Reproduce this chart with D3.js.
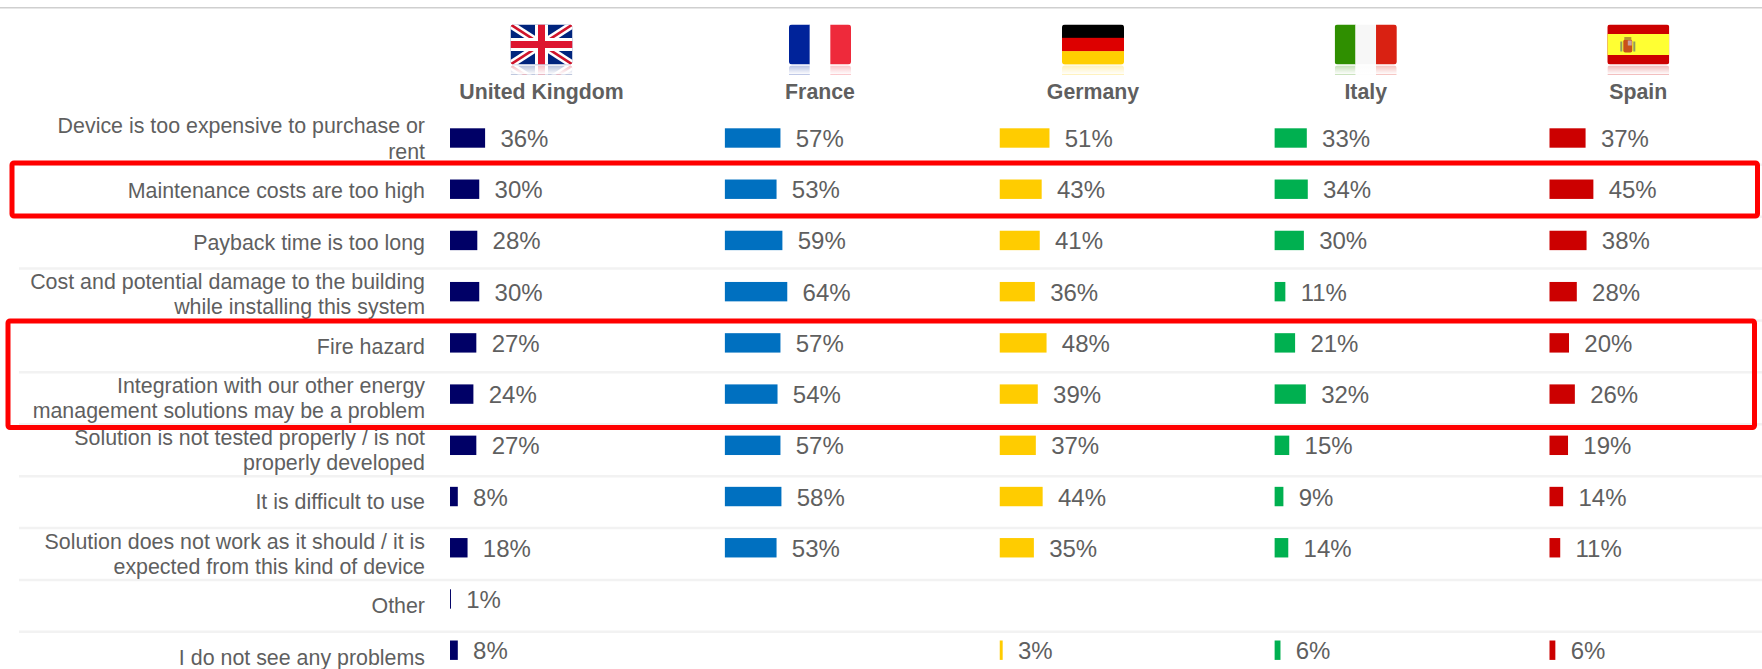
<!DOCTYPE html>
<html>
<head>
<meta charset="utf-8">
<script src="https://cdn.jsdelivr.net/npm/d3@7"></script>
<style>
  html, body { margin: 0; padding: 0; background: #fff; }
  svg { display: block; font-family: "Liberation Sans", Arial, sans-serif; }
</style>
</head>
<body>
<svg id="chart"></svg>
<script>
// -- DATA --
const countries = ["United Kingdom", "France", "Germany", "Italy", "Spain"];
const categories = [
  "Device is too expensive to purchase or\nrent",
  "Maintenance costs are too high",
  "Payback time is too long",
  "Cost and potential damage to the building\nwhile installing this system",
  "Fire hazard",
  "Integration with our other energy\nmanagement solutions may be a problem",
  "Solution is not tested properly / is not\nproperly developed",
  "It is difficult to use",
  "Solution does not work as it should / it is\nexpected from this kind of device",
  "Other",
  "I do not see any problems"
];
const ukValues = [36, 30, 28, 30, 27, 24, 27, 8, 18, 1, 8];
const franceValues = [57, 53, 59, 64, 57, 54, 57, 58, 53, null, null];
const germanyValues = [51, 43, 41, 36, 48, 39, 37, 44, 35, null, 3];
const italyValues = [33, 34, 30, 11, 21, 32, 15, 9, 14, null, 6];
const spainValues = [37, 45, 38, 28, 20, 26, 19, 14, 11, null, 6];
const seriesValues = [ukValues, franceValues, germanyValues, italyValues, spainValues];
const barColors = ["#000066", "#0070c0", "#ffcc00", "#00b050", "#cc0000"];
// rows (by index) that get a red highlight frame
const highlightRows = [[1, 1], [4, 5]];

// -- LAYOUT --
const width = 1762;
const height = 669;
const textColor = "#5f5f5f";
const rowIdx = d3.range(categories.length);

const svg = d3.select("#chart").attr("width", width).attr("height", height);

// bars and labels sit on slightly different row pitches in the original
const yBar = d3.scalePoint().domain(rowIdx).range([138, 650.2]);
const yRow = d3.scalePoint().domain(rowIdx).range([138.8, 657.8]);
const colX = d3.scalePoint().domain(countries).range([450, 1549.5]);
const headerX = d3.scaleOrdinal(countries, [541.5, 820, 1093, 1365.7, 1638.3]);
const barW = d3.scaleLinear().domain([0, 100]).range([0, 97.5]);
const barColor = d3.scaleOrdinal(countries, barColors);

// top rule
svg.append("line")
  .attr("x1", 0).attr("x2", width).attr("y1", 7.8).attr("y2", 7.8)
  .attr("stroke", "#cfcfcf").attr("stroke-width", 1.5);

// row separators
svg.selectAll(".sep")
  .data(rowIdx.slice(1))
  .enter()
  .append("line")
  .attr("class", "sep")
  .attr("x1", 19).attr("x2", width)
  .attr("y1", (i) => yRow(i) - yRow.step() / 2)
  .attr("y2", (i) => yRow(i) - yRow.step() / 2)
  .attr("stroke", "#f2f2f2").attr("stroke-width", 2.5);

// category labels
const lineH = 25.4;
svg.selectAll(".cat")
  .data(categories)
  .enter()
  .append("text")
  .attr("class", "cat")
  .attr("text-anchor", "end")
  .attr("font-size", 21.4)
  .attr("fill", textColor)
  .each(function (d, i) {
    const lines = d.split("\n");
    const top = yRow(i) - ((lines.length - 1) * lineH) / 2 + 7.2;
    d3.select(this)
      .selectAll("tspan")
      .data(lines)
      .enter()
      .append("tspan")
      .attr("x", 425)
      .attr("y", (l, k) => top + k * lineH)
      .text((l) => l);
  });

// headers
svg.selectAll(".head")
  .data(countries)
  .enter()
  .append("text")
  .attr("class", "head")
  .attr("x", (d) => headerX(d))
  .attr("y", 99)
  .attr("text-anchor", "middle")
  .attr("font-size", 21.3)
  .attr("font-weight", "bold")
  .attr("fill", textColor)
  .text((d) => d);

// bars + value labels
const points = [];
countries.forEach((c, ci) => {
  seriesValues[ci].forEach((v, i) => {
    if (v !== null) points.push({ c, i, v });
  });
});
svg.selectAll(".bar")
  .data(points)
  .enter()
  .append("rect")
  .attr("class", "bar")
  .attr("x", (d) => colX(d.c))
  .attr("y", (d) => yBar(d.i) - 9.7)
  .attr("width", (d) => barW(d.v))
  .attr("height", 19.4)
  .attr("fill", (d) => barColor(d.c));
svg.selectAll(".val")
  .data(points)
  .enter()
  .append("text")
  .attr("class", "val")
  .attr("x", (d) => colX(d.c) + barW(d.v) + 15.3)
  .attr("y", (d) => yBar(d.i) + 9)
  .attr("font-size", 24)
  .attr("fill", textColor)
  .text((d) => d.v + "%");

// -- FLAGS -- drawn in a 62x40 box with a faded reflection underneath
const defs = svg.append("defs");
defs.append("clipPath").attr("id", "flagClip")
  .append("rect").attr("width", 62).attr("height", 40).attr("rx", 3);
defs.append("clipPath").attr("id", "reflClip")
  .append("rect").attr("y", 41).attr("width", 62).attr("height", 9);
const fade = defs.append("linearGradient").attr("id", "fade")
  .attr("x1", 0).attr("x2", 0).attr("y1", 0).attr("y2", 1);
fade.append("stop").attr("offset", 0).attr("stop-color", "#fff").attr("stop-opacity", 0.72);
fade.append("stop").attr("offset", 1).attr("stop-color", "#fff").attr("stop-opacity", 1);

function stripes(g, list, vertical) {
  const n = list.length;
  list.forEach((col, k) => {
    g.append("rect")
      .attr("x", vertical ? (k * 62) / n : 0)
      .attr("y", vertical ? 0 : (k * 40) / n)
      .attr("width", vertical ? 62 / n + 0.3 : 62)
      .attr("height", vertical ? 40 : 40 / n + 0.3)
      .attr("fill", col);
  });
}
function drawUK(g) {
  g.append("rect").attr("width", 62).attr("height", 40).attr("fill", "#00247d");
  const diag = [[0, 0, 62, 40], [62, 0, 0, 40]];
  diag.forEach((p) => {
    g.append("line").attr("x1", p[0]).attr("y1", p[1]).attr("x2", p[2]).attr("y2", p[3])
      .attr("stroke", "#fff").attr("stroke-width", 7.5);
  });
  diag.forEach((p) => {
    g.append("line").attr("x1", p[0]).attr("y1", p[1]).attr("x2", p[2]).attr("y2", p[3])
      .attr("stroke", "#cf142b").attr("stroke-width", 2.6);
  });
  g.append("rect").attr("x", 24.5).attr("width", 13).attr("height", 40).attr("fill", "#fff");
  g.append("rect").attr("y", 13.5).attr("width", 62).attr("height", 13).attr("fill", "#fff");
  g.append("rect").attr("x", 27.5).attr("width", 7).attr("height", 40).attr("fill", "#dd1530");
  g.append("rect").attr("y", 16.5).attr("width", 62).attr("height", 7).attr("fill", "#dd1530");
}
function drawSpain(g) {
  g.append("rect").attr("width", 62).attr("height", 40).attr("fill", "#cc0000");
  g.append("rect").attr("y", 9.5).attr("width", 62).attr("height", 21).attr("fill", "#ffff33");
  // little crest
  g.append("rect").attr("x", 16).attr("y", 15).attr("width", 9).attr("height", 13).attr("rx", 2).attr("fill", "#c8501a");
  g.append("rect").attr("x", 20.5).attr("y", 16).attr("width", 4).attr("height", 5).attr("fill", "#c9a0a0");
  g.append("rect").attr("x", 17).attr("y", 12.5).attr("width", 7).attr("height", 3).attr("fill", "#b89a30");
  g.append("rect").attr("x", 13).attr("y", 17).attr("width", 2).attr("height", 10).attr("fill", "#8f9a60");
  g.append("rect").attr("x", 26).attr("y", 17).attr("width", 2).attr("height", 10).attr("fill", "#8f9a60");
}
const flagDraw = {
  "United Kingdom": drawUK,
  France: (g) => stripes(g, ["#00239a", "#ffffff", "#ee2a3b"], true),
  Germany: (g) => stripes(g, ["#000000", "#dd0000", "#ffce00"], false),
  Italy: (g) => stripes(g, ["#2f8f00", "#f7f7f7", "#d92112"], true),
  Spain: drawSpain
};
countries.forEach((c) => {
  const flag = svg.append("g")
    .attr("transform", `translate(${headerX(c) - 31}, 24.5)`);
  flagDraw[c](flag.append("g").attr("clip-path", "url(#flagClip)"));
  // reflection, only the first few px of it show
  const reflWrap = flag.append("g").attr("clip-path", "url(#reflClip)");
  const refl = reflWrap.append("g")
    .attr("transform", "translate(0, 81) scale(1, -1)");
  flagDraw[c](refl.append("g").attr("clip-path", "url(#flagClip)"));
  flag.append("rect")
    .attr("x", -1).attr("y", 41).attr("width", 64).attr("height", 9)
    .attr("fill", "url(#fade)");
});

// -- HIGHLIGHT FRAMES --
const frameEdges = [
  { left: 12, right: 1757.5, top: 163, bottom: 216 },
  { left: 8, right: 1754.5, top: 321, bottom: 427.5 }
];
svg.selectAll(".frame")
  .data(highlightRows)
  .enter()
  .append("rect")
  .attr("class", "frame")
  .attr("x", (d, i) => frameEdges[i].left)
  .attr("y", (d, i) => frameEdges[i].top)
  .attr("width", (d, i) => frameEdges[i].right - frameEdges[i].left)
  .attr("height", (d, i) => frameEdges[i].bottom - frameEdges[i].top)
  .attr("rx", 2)
  .attr("fill", "none")
  .attr("stroke", "#ff0000")
  .attr("stroke-width", 5);
</script>
</body>
</html>
